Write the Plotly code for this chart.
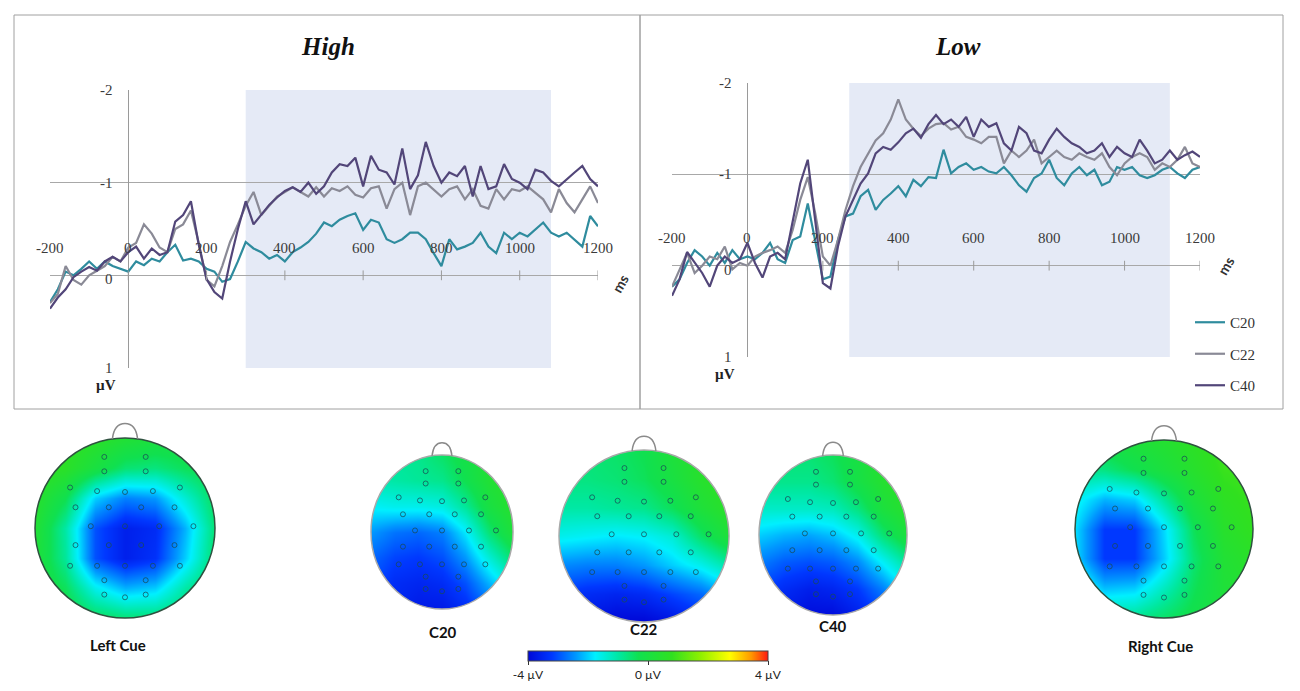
import plotly.graph_objects as go

# ---------------- ERP data (µV, negative plotted up) ----------------
time_ms = list(range(-200, 1201, 20))

high_c20 = [0.29, 0.15, -0.04, 0.0, -0.07, -0.15, -0.07, -0.15, -0.1, -0.07, -0.04,
            -0.15, -0.11, -0.18, -0.15, -0.25, -0.33, -0.16, -0.18, -0.15, -0.07,
            -0.04, 0.07, 0.04, -0.15, -0.36, -0.29, -0.25, -0.18, -0.22, -0.15,
            -0.25, -0.3, -0.36, -0.45, -0.57, -0.53, -0.6, -0.64, -0.67, -0.49,
            -0.6, -0.57, -0.39, -0.35, -0.39, -0.46, -0.46, -0.39, -0.24, -0.1,
            -0.39, -0.28, -0.31, -0.35, -0.46, -0.31, -0.24, -0.46, -0.39, -0.46,
            -0.42, -0.49, -0.57, -0.46, -0.42, -0.46, -0.39, -0.31, -0.64, -0.53]
high_c22 = [0.3, 0.2, -0.1, 0.05, 0.1, 0.0, -0.05, -0.1, -0.2, -0.15, -0.3,
            -0.35, -0.55, -0.45, -0.3, -0.25, -0.5, -0.55, -0.7, -0.35, 0.05,
            0.12, -0.1, -0.36, -0.55, -0.75, -0.9, -0.65, -0.75, -0.85, -0.9,
            -0.95, -0.9, -0.85, -0.95, -0.85, -0.94, -0.91, -0.96, -0.87, -0.84,
            -0.94, -0.96, -0.72, -0.93, -1.0, -0.65, -0.96, -1.0, -0.93, -0.85,
            -0.93, -0.96, -0.82, -0.93, -0.75, -0.72, -0.93, -0.82, -0.93, -0.91,
            -0.96, -0.89, -0.82, -0.68, -0.93, -0.78, -0.68, -0.82, -0.96, -0.78]
high_c40 = [0.36, 0.24, 0.15, 0.02, -0.04, -0.09, -0.05, -0.15, -0.2, -0.15, -0.25,
            -0.31, -0.18, -0.29, -0.22, -0.25, -0.58, -0.65, -0.8, -0.33, 0.04,
            0.18, 0.25, -0.15, -0.5, -0.8, -0.55, -0.65, -0.76, -0.84, -0.91,
            -0.95, -0.9, -1.0, -0.88, -0.96, -1.11, -1.2, -1.18, -1.27, -0.96,
            -1.29, -1.14, -1.11, -0.98, -1.37, -0.93, -1.08, -1.44, -1.18, -1.0,
            -1.11, -1.07, -1.18, -0.85, -1.18, -0.93, -0.96, -1.2, -1.04, -1.0,
            -0.93, -1.14, -1.11, -1.02, -0.96, -1.04, -1.11, -1.18, -1.04, -0.96]

low_c20 = [0.23, 0.15, -0.03, -0.17, -0.1, 0.0, -0.14, -0.03, -0.17, -0.07, -0.1,
           -0.07, -0.14, -0.25, -0.07, -0.03, -0.28, -0.32, -0.68, -0.28, 0.15,
           0.12, -0.28, -0.54, -0.57, -0.76, -0.83, -0.61, -0.72, -0.79, -0.87,
           -0.76, -0.94, -0.87, -0.97, -0.96, -1.27, -1.01, -1.08, -1.12, -1.05,
           -1.08, -1.03, -1.01, -1.08, -0.99, -0.88, -0.81, -0.96, -1.01, -1.16,
           -0.96, -0.88, -1.01, -1.08, -0.99, -1.05, -0.88, -0.92, -1.08, -1.05,
           -1.08, -0.99, -0.96, -0.99, -1.05, -1.08, -1.01, -0.96, -1.05, -1.08]
low_c22 = [0.23, 0.04, -0.14, 0.08, 0.0, -0.1, -0.07, -0.21, 0.04, -0.03, 0.0,
           -0.1, -0.14, -0.17, -0.21, -0.14, -0.39, -0.72, -0.97, -0.57, -0.1,
           0.0, -0.28, -0.61, -0.87, -1.08, -1.23, -1.37, -1.45, -1.6, -1.82,
           -1.6, -1.5, -1.42, -1.5, -1.55, -1.56, -1.49, -1.52, -1.41, -1.38,
           -1.34, -1.41, -1.41, -1.12, -1.26, -1.19, -1.26, -1.38, -1.12, -1.19,
           -1.26, -1.19, -1.16, -1.23, -1.19, -1.16, -1.23, -1.08, -0.99, -1.12,
           -1.19, -1.23, -1.19, -1.05, -1.12, -1.08, -1.16, -1.3, -1.12, -1.08]
low_c40 = [0.33, 0.15, -0.15, -0.03, 0.08, 0.23, 0.0, -0.1, -0.03, -0.07, -0.25,
           -0.03, 0.13, -0.1, -0.14, -0.07, -0.47, -0.9, -1.16, -0.47, 0.19,
           0.25, -0.21, -0.54, -0.72, -0.9, -1.01, -1.23, -1.3, -1.27, -1.35,
           -1.45, -1.5, -1.4, -1.55, -1.65, -1.55, -1.6, -1.52, -1.63, -1.41,
           -1.6, -1.52, -1.56, -1.34, -1.26, -1.52, -1.45, -1.26, -1.23, -1.38,
           -1.5, -1.41, -1.34, -1.3, -1.23, -1.26, -1.34, -1.19, -1.3, -1.23,
           -1.19, -1.38, -1.26, -1.12, -1.16, -1.26, -1.16, -1.21, -1.25, -1.19]

high_window = (300, 1080)
low_window = (270, 1120)

ms_ticks = [-200, 0, 200, 400, 600, 800, 1000, 1200]
uv_ticks = [-2, -1, 0, 1]

# ---------------- topographic maps (µV on a coarse grid, top row first) ----------------
grid_x = [-1.0, -0.67, -0.33, 0.0, 0.33, 0.67, 1.0]
grid_y = [1.0, 0.67, 0.33, 0.0, -0.33, -0.67, -1.0]

left_cue = [[0.8, 0.8, 0.6, 0.3, 0.1, 0.0, 0.0],
            [0.8, 0.6, 0.0, -0.6, -0.7, -0.4, -0.2],
            [0.5, -0.3, -2.0, -2.6, -2.4, -1.4, -0.4],
            [0.3, -1.0, -3.0, -3.6, -3.4, -2.2, -0.6],
            [0.2, -0.9, -3.0, -3.6, -3.3, -2.0, -0.5],
            [0.1, -0.4, -1.6, -2.2, -2.0, -1.0, -0.3],
            [0.0, -0.1, -0.4, -0.6, -0.6, -0.4, -0.2]]
c20_map = [[-0.9, -0.9, -0.8, -0.5, -0.1, 0.3, 0.6],
           [-1.1, -1.0, -0.9, -0.8, -0.3, 0.3, 0.6],
           [-1.7, -1.6, -1.6, -1.5, -0.9, 0.0, 0.5],
           [-2.4, -2.7, -2.8, -2.6, -1.8, -0.6, 0.2],
           [-2.8, -3.1, -3.2, -3.0, -2.4, -1.4, -0.5],
           [-3.0, -3.4, -3.5, -3.4, -3.0, -2.2, -1.4],
           [-3.1, -3.5, -3.7, -3.7, -3.4, -2.8, -2.0]]
c22_map = [[-0.6, -0.6, -0.5, -0.3, 0.2, 0.6, 0.8],
           [-0.7, -0.7, -0.6, -0.4, 0.0, 0.5, 0.8],
           [-1.0, -1.0, -0.9, -0.8, -0.4, 0.2, 0.6],
           [-1.6, -1.7, -1.8, -1.7, -1.4, -0.5, 0.2],
           [-2.5, -2.6, -2.6, -2.4, -2.0, -1.6, -1.0],
           [-3.2, -3.4, -3.5, -3.4, -3.1, -2.8, -2.2],
           [-3.6, -3.8, -4.0, -4.0, -3.8, -3.4, -3.0]]
c40_map = [[-0.6, -0.6, -0.6, -0.4, 0.0, 0.5, 0.7],
           [-0.8, -0.8, -0.8, -0.6, -0.1, 0.4, 0.7],
           [-1.3, -1.3, -1.3, -1.2, -0.7, 0.1, 0.5],
           [-2.0, -2.2, -2.3, -2.1, -1.6, -0.6, 0.1],
           [-2.6, -2.9, -3.0, -2.9, -2.5, -1.7, -0.9],
           [-3.1, -3.4, -3.6, -3.5, -3.2, -2.6, -1.8],
           [-3.3, -3.7, -3.9, -3.9, -3.6, -3.1, -2.4]]
right_cue = [[-0.2, 0.0, 0.2, 0.4, 0.7, 1.0, 1.0],
             [-0.8, -0.7, -0.3, 0.1, 0.5, 0.9, 1.0],
             [-1.6, -2.2, -2.0, -0.9, 0.1, 0.7, 0.9],
             [-1.9, -3.2, -3.2, -1.9, -0.4, 0.5, 0.8],
             [-1.9, -3.2, -3.2, -2.0, -0.6, 0.3, 0.6],
             [-1.3, -2.1, -2.0, -1.2, -0.4, 0.2, 0.4],
             [-0.7, -0.9, -0.8, -0.5, -0.2, 0.1, 0.2]]

elec_x = [-0.23, 0.23, -0.23, 0.23, -0.61, -0.31, 0.0, 0.31, 0.61,
          -0.55, -0.18, 0.18, 0.55, -0.38, 0.0, 0.38, 0.76,
          -0.55, -0.18, 0.18, 0.55, -0.61, -0.31, 0.0, 0.31, 0.61,
          -0.23, 0.23, -0.23, 0.0, 0.23]
elec_y = [0.79, 0.79, 0.63, 0.63, 0.45, 0.41, 0.4, 0.41, 0.45,
          0.23, 0.23, 0.23, 0.23, 0.02, 0.02, 0.02, 0.02,
          -0.19, -0.19, -0.19, -0.19, -0.42, -0.42, -0.42, -0.42, -0.42,
          -0.58, -0.58, -0.74, -0.77, -0.74]

W, H = 1300, 691
SERIF = "Liberation Serif"
SANS = "Lato"
line_colors = {"C20": "#2f8c9e", "C22": "#8a8a96", "C40": "#524679"}


def fx(p):
    return p / W


def fy(p):
    return 1 - p / H


fig = go.Figure()
shapes = []
annotations = []

# ---------------- ERP panels ----------------
panels = [
    dict(name="High", ax="1", data={"C20": high_c20, "C22": high_c22, "C40": high_c40},
         win=high_window, xdom=(50, 598), ydom=(90, 368), box=(14, 640), title_x=328,
         legend=False, ms_shift=(22, -8)),
    dict(name="Low", ax="2", data={"C20": low_c20, "C22": low_c22, "C40": low_c40},
         win=low_window, xdom=(672, 1200), ydom=(83, 357), box=(640, 1283), title_x=958,
         legend=True, ms_shift=(26, 0)),
]

for p in panels:
    sfx = "" if p["ax"] == "1" else p["ax"]
    xref, yref = "x" + sfx, "y" + sfx
    for key, vals in p["data"].items():
        fig.add_trace(go.Scatter(x=time_ms, y=vals, mode="lines", name=key,
                                 line=dict(color=line_colors[key], width=2.2),
                                 xaxis=xref, yaxis=yref, legendgroup=key,
                                 showlegend=p["legend"], hoverinfo="skip"))
    # small tick marks on the time axis
    fig.add_trace(go.Scatter(x=ms_ticks[1:], y=[0] * (len(ms_ticks) - 1), mode="markers",
                             marker=dict(symbol="line-ns", size=7,
                                         line=dict(width=1, color="#9a9a9a")),
                             xaxis=xref, yaxis=yref, showlegend=False, hoverinfo="skip"))

    fig.layout["xaxis" + sfx] = dict(domain=[fx(p["xdom"][0]), fx(p["xdom"][1])],
                                     range=[-200, 1200], anchor=yref, showgrid=False,
                                     zeroline=True, zerolinecolor="#9a9a9a", zerolinewidth=1.2,
                                     showticklabels=False, showline=False, fixedrange=True)
    fig.layout["yaxis" + sfx] = dict(domain=[fy(p["ydom"][1]), fy(p["ydom"][0])],
                                     range=[1, -2], anchor=xref, tickvals=uv_ticks,
                                     showgrid=True, gridcolor="#a8a8a8", gridwidth=1.2,
                                     zeroline=False, showticklabels=False, showline=False,
                                     fixedrange=True)

    shapes.append(dict(type="rect", xref=xref, yref=yref, x0=p["win"][0], x1=p["win"][1],
                       y0=-2, y1=1, fillcolor="#e5eaf6", line=dict(width=0), layer="below"))
    shapes.append(dict(type="rect", xref="paper", yref="paper", x0=fx(p["box"][0]),
                       x1=fx(p["box"][1]), y0=fy(409), y1=fy(15),
                       line=dict(color="#a0a0a0", width=1)))

    annotations.append(dict(x=fx(p["title_x"]), y=fy(47), xref="paper", yref="paper",
                            xanchor="center", yanchor="middle",
                            text="<b><i>%s</i></b>" % p["name"], showarrow=False,
                            font=dict(family=SERIF, size=25, color="#111")))
    for t in ms_ticks:
        annotations.append(dict(x=t, y=-0.3, xref=xref, yref=yref, text=str(t),
                                showarrow=False, font=dict(family=SERIF, size=15, color="#3a3a3a")))
    for v in uv_ticks:
        annotations.append(dict(x=0, y=v, xref=xref, yref=yref, text=str(v), showarrow=False,
                                xanchor="right", xshift=-13, yshift=-4 if v == 0 else 0,
                                font=dict(family=SERIF, size=15, color="#3a3a3a")))
    annotations.append(dict(x=0, y=1, xref=xref, yref=yref, text="<b>µV</b>", showarrow=False,
                            xanchor="right", xshift=-10, yshift=-17,
                            font=dict(family=SERIF, size=15, color="#222")))
    annotations.append(dict(x=1200, y=0, xref=xref, yref=yref, text="<b>ms</b>",
                            showarrow=False, textangle=-60, xshift=p["ms_shift"][0],
                            yshift=p["ms_shift"][1],
                            font=dict(family=SANS, size=14, color="#333")))

# ---------------- topographic maps ----------------
colorscale = [[0.0, "#0008d8"], [0.1, "#0038ff"], [0.2, "#0098ff"], [0.28, "#00f0ff"],
              [0.38, "#00e8a0"], [0.46, "#10e050"], [0.6, "#30e020"], [0.72, "#90f000"],
              [0.84, "#ffff00"], [0.93, "#ff9800"], [1.0, "#ff1a10"]]

k = 0.5523
circle_path = ("M 0 1 C {k} 1 1 {k} 1 0 C 1 -{k} {k} -1 0 -1 "
               "C -{k} -1 -1 -{k} -1 0 C -1 {k} -{k} 1 0 1 Z").format(k=k)
mask_path = "M -1.5 -1.5 L 1.5 -1.5 L 1.5 1.5 L -1.5 1.5 Z " + circle_path
nose_path = "M -0.14 0.99 Q -0.12 1.16 0 1.16 Q 0.12 1.16 0.14 0.99"
R = 1.25  # half-width of each map's axes, in head radii

topos = [
    dict(label="Left Cue", z=left_cue, c=(125, 528), r=(90, 90), lab=(118, 645), edge="#2f5240"),
    dict(label="C20", z=c20_map, c=(442, 532), r=(71, 77), lab=(443, 632), edge="#a8a8a8"),
    dict(label="C22", z=c22_map, c=(644, 536), r=(85, 86), lab=(644, 629), edge="#a8a8a8"),
    dict(label="C40", z=c40_map, c=(833, 535), r=(74, 80), lab=(833, 626), edge="#a8a8a8"),
    dict(label="Right Cue", z=right_cue, c=(1164, 529), r=(89, 89), lab=(1160, 646), edge="#2f5240"),
]

for i, t in enumerate(topos):
    n = str(i + 3)
    xref, yref = "x" + n, "y" + n
    cx, cy = t["c"]
    rx, ry = t["r"]
    fig.add_trace(go.Heatmap(x=grid_x, y=grid_y, z=t["z"], zsmooth="best", coloraxis="coloraxis",
                             xaxis=xref, yaxis=yref, hoverinfo="skip"))
    fig.add_trace(go.Scatter(x=elec_x, y=elec_y, mode="markers", xaxis=xref, yaxis=yref,
                             marker=dict(symbol="circle-open", size=5, color="rgba(25,75,85,0.75)",
                                         line=dict(width=1)),
                             showlegend=False, hoverinfo="skip"))
    fig.layout["xaxis" + n] = dict(domain=[fx(cx - R * rx), fx(cx + R * rx)],
                                   range=[-R, R], anchor=yref, visible=False, fixedrange=True)
    fig.layout["yaxis" + n] = dict(domain=[fy(cy + R * ry), fy(cy - R * ry)],
                                   range=[-R, R], anchor=xref, visible=False, fixedrange=True)
    shapes.append(dict(type="path", xref=xref, yref=yref, path=mask_path,
                       fillcolor="white", line=dict(width=0), layer="above"))
    shapes.append(dict(type="circle", xref=xref, yref=yref, x0=-1, x1=1, y0=-1, y1=1,
                       line=dict(color=t["edge"], width=1.5), layer="above"))
    shapes.append(dict(type="path", xref=xref, yref=yref, path=nose_path,
                       line=dict(color="#8a8a8a", width=1.5), layer="above"))
    annotations.append(dict(x=fx(t["lab"][0]), y=fy(t["lab"][1]), xref="paper", yref="paper",
                            xanchor="center", yanchor="middle",
                            text="<b>%s</b>" % t["label"], showarrow=False,
                            font=dict(family=SANS, size=15, color="#111")))

fig.update_layout(
    width=W, height=H, margin=dict(l=0, r=0, t=0, b=0),
    paper_bgcolor="white", plot_bgcolor="white",
    shapes=shapes, annotations=annotations,
    coloraxis=dict(colorscale=colorscale, cmin=-4, cmax=4,
                   colorbar=dict(orientation="h", x=fx(648), xanchor="center",
                                 y=fy(651), yanchor="top", len=240, lenmode="pixels",
                                 thickness=10, tickvals=[-4, 0, 4],
                                 ticktext=["-4 µV", "0 µV", "4 µV"], ticks="outside",
                                 ticklen=4, tickcolor="#333", outlinewidth=1,
                                 outlinecolor="#444", xpad=0, ypad=0,
                                 tickfont=dict(family=SANS, size=12, color="#222"))),
    legend=dict(x=fx(1190), y=fy(306), xanchor="left", yanchor="top",
                font=dict(family=SERIF, size=15, color="#333"), tracegroupgap=9,
                bgcolor="rgba(0,0,0,0)"),
    showlegend=True,
)

fig.write_html("out.html", config={"displayModeBar": False},
               post_script="document.body.style.margin='0';")
